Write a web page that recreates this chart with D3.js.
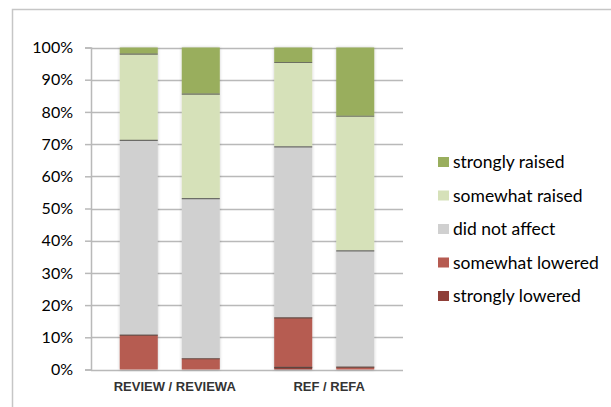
<!DOCTYPE html>
<html><head><meta charset="utf-8">
<script src="https://cdn.jsdelivr.net/npm/d3@7"></script>
<style>html,body{margin:0;padding:0;background:#fff;}svg{display:block;}</style>
</head><body>
<svg id="chart" width="611" height="407"></svg>
<script>
const groups = ["REVIEW / REVIEWA", "REF / REFA"];
const bars = [
  {group: "REVIEW / REVIEWA", name: "REVIEW"},
  {group: "REVIEW / REVIEWA", name: "REVIEWA"},
  {group: "REF / REFA", name: "REF"},
  {group: "REF / REFA", name: "REFA"}
];
const series = ["strongly lowered", "somewhat lowered", "did not affect", "somewhat raised", "strongly raised"];
const stronglyLowered = [0.0, 0.0, 0.8, 0.0];
const somewhatLowered = [10.8, 3.5, 15.4, 0.9];
const didNotAffect    = [60.5, 49.7, 53.1, 36.1];
const somewhatRaised  = [26.8, 32.5, 26.2, 41.8];
const stronglyRaised  = [1.9, 14.3, 4.5, 21.2];
const yTicks = [0, 10, 20, 30, 40, 50, 60, 70, 80, 90, 100];
const colors = ["#8f3f38", "#b65b51", "#d0d0d0", "#d6e1b9", "#99ae5d"];

const valuesBySeries = [stronglyLowered, somewhatLowered, didNotAffect, somewhatRaised, stronglyRaised];
const rows = bars.map((b, i) => {
  const r = {group: b.group, name: b.name};
  series.forEach((s, k) => r[s] = valuesBySeries[k][i]);
  return r;
});
const stacked = d3.stack().keys(series)(rows);

const svg = d3.select("#chart");
const font = "Lato, 'Open Sans', sans-serif";

// frame
svg.append("path").attr("d", "M12.5,407 V9.5 H611").attr("fill", "none")
  .attr("stroke", "#c6c6c6").attr("stroke-width", 1.5);

const x0 = 91, x1 = 403;
const y = d3.scaleLinear().domain([0, 100]).range([369.5, 47.5]);
const xg = d3.scaleBand().domain(groups).range([x0, x1]).paddingInner(0.3).paddingOuter(0.16);
const xi = d3.scaleBand().domain([0, 1]).range([0, xg.bandwidth()]).paddingInner(0.387).paddingOuter(0.065);
const barX = (d, i) => xg(rows[i].group) + xi(i % 2);

// gridlines
svg.append("g").selectAll("line").data(yTicks).join("line")
  .attr("x1", x0).attr("x2", x1)
  .attr("y1", d => Math.round(y(d)) + 0.5).attr("y2", d => Math.round(y(d)) + 0.5)
  .attr("stroke", "#b9b9b9").attr("stroke-width", 1.5);

// y axis
const yAxis = d3.axisLeft(y).tickValues(yTicks).tickFormat(d => d + "%").tickSize(6).tickPadding(12);
const ga = svg.append("g").attr("transform", `translate(${x0},0)`).call(yAxis);
ga.select(".domain").attr("stroke", "#b9b9b9").attr("stroke-width", 1.5);
ga.selectAll(".tick line").attr("stroke", "#b9b9b9").attr("stroke-width", 1.5);
ga.selectAll(".tick text").attr("font-family", font).attr("font-size", 16).attr("fill", "#000");

// shadow filter
const defs = svg.append("defs");
const f = defs.append("filter").attr("id", "sh").attr("x", "-20%").attr("y", "-5%").attr("width", "140%").attr("height", "110%");
f.append("feDropShadow").attr("dx", 0).attr("dy", 0).attr("stdDeviation", 1.6)
  .attr("flood-color", "#000").attr("flood-opacity", 0.22);

// bars
const barG = svg.append("g").attr("filter", "url(#sh)");
stacked.forEach((layer, k) => {
  barG.append("g").selectAll("rect").data(layer).join("rect")
    .attr("x", (d, i) => barX(d, i))
    .attr("width", xi.bandwidth())
    .attr("y", d => y(d[1]))
    .attr("height", d => y(d[0]) - y(d[1]))
    .attr("fill", colors[k]);
});
// separator lines at top of each segment
stacked.forEach((layer, k) => {
  svg.append("g").selectAll("line").data(layer.filter(d => d[1] - d[0] > 0 && d[1] < 99.9).map(d => ({d, i: layer.indexOf(d)})))
    .join("line")
    .attr("x1", o => barX(o.d, o.i)).attr("x2", o => barX(o.d, o.i) + xi.bandwidth())
    .attr("y1", o => y(o.d[1]) + 0.5).attr("y2", o => y(o.d[1]) + 0.5)
    .attr("stroke", "#4a4a44").attr("stroke-opacity", 0.75).attr("stroke-width", 1.2);
});

// category labels
svg.append("g").selectAll("text").data(groups).join("text")
  .attr("x", d => xg(d) + xg.bandwidth() / 2 + 5)
  .attr("y", 391)
  .attr("text-anchor", "middle")
  .attr("font-family", "'Liberation Sans', Arial, sans-serif")
  .attr("font-weight", "bold").attr("font-size", 13).attr("fill", "#333")
  .text(d => d);

// legend
const ly = d3.scalePoint().domain(series.slice().reverse()).range([162, 296]);
const lg = svg.append("g").selectAll("g").data(series).join("g")
  .attr("transform", d => `translate(438,${ly(d)})`);
lg.append("rect").attr("x", 0).attr("y", -5).attr("width", 11).attr("height", 10)
  .attr("fill", (d, i) => colors[i]);
lg.append("text").attr("x", 15).attr("y", 0).attr("dy", "0.35em")
  .attr("font-family", font).attr("font-size", 17.5).attr("fill", "#000")
  .text(d => d);
</script>
</body></html>
